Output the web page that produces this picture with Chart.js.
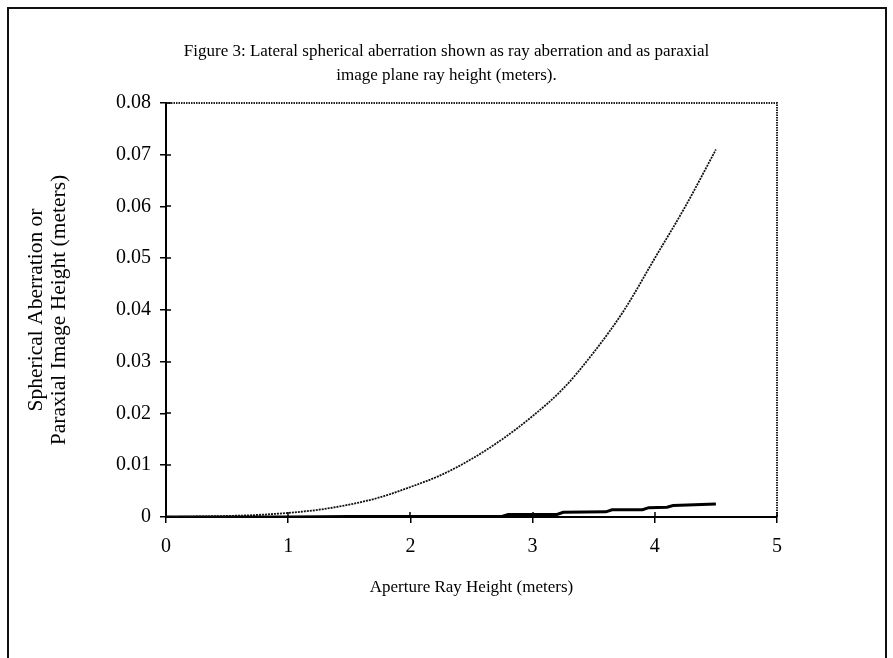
<!DOCTYPE html>
<html><head><meta charset="utf-8">
<script src="https://cdn.jsdelivr.net/npm/chart.js@4.4.1/dist/chart.umd.min.js"></script>
<style>html,body{margin:0;padding:0;background:#fff;}#wrap{width:893px;height:658px;position:relative;}</style>
</head><body><div id="wrap"><canvas id="c" width="893" height="658"></canvas></div>
<script>
const titleLines = ["Figure 3: Lateral spherical aberration shown as ray aberration and as paraxial", "image plane ray height (meters)."];
const xTitle = "Aperture Ray Height (meters)";
const yTitleLines = ["Spherical Aberration or", "Paraxial Image Height (meters)"];
const xTicks = [0, 1, 2, 3, 4, 5];
const xTickLabels = ["0", "1", "2", "3", "4", "5"];
const yTicks = [0, 0.01, 0.02, 0.03, 0.04, 0.05, 0.06, 0.07, 0.08];
const yTickLabels = ["0", "0.01", "0.02", "0.03", "0.04", "0.05", "0.06", "0.07", "0.08"];

// paraxial image plane ray height (dotted curve)
const heightX = [0, 0.25, 0.5, 0.75, 1.0, 1.25, 1.5, 1.75, 2.0, 2.25, 2.5, 2.75, 3.0, 3.25, 3.5, 3.75, 4.0, 4.25, 4.5];
const heightY = [0, 0.0001, 0.0002, 0.0004, 0.0008, 0.0014, 0.0024, 0.0038, 0.0058, 0.0081, 0.0112, 0.0150, 0.0195, 0.0248, 0.0318, 0.0400, 0.0500, 0.0600, 0.0710];

// lateral ray aberration (solid curve)
const aberrX = [0, 0.5, 1.0, 1.5, 2.0, 2.5, 2.75, 2.8, 3.2, 3.25, 3.6, 3.65, 3.9, 3.95, 4.1, 4.15, 4.5];
const aberrY = [0, 0, 0, 0.0001, 0.0001, 0.0001, 0.0001, 0.0005, 0.0005, 0.0009, 0.0010, 0.0014, 0.0014, 0.0018, 0.0019, 0.0022, 0.0025];

const serif = "'Liberation Serif', 'Times New Roman', serif";

const decor = {
  id: 'decor',
  beforeDraw(chart) {
    const ctx = chart.ctx;
    ctx.save(); ctx.fillStyle = '#fff'; ctx.fillRect(0, 0, chart.width, chart.height); ctx.restore();
  },
  afterDraw(chart) {
    const { ctx, chartArea: a, scales: { x, y } } = chart;
    ctx.save();
    // outer frame (left, top, right)
    ctx.strokeStyle = '#111'; ctx.lineWidth = 2;
    ctx.beginPath();
    ctx.moveTo(8, 658); ctx.lineTo(8, 8); ctx.lineTo(886, 8); ctx.lineTo(886, 658);
    ctx.stroke();
    // plot top/right border (grainy)
    ctx.strokeStyle = '#222'; ctx.lineWidth = 2; ctx.setLineDash([1.5, 1]);
    ctx.beginPath();
    ctx.moveTo(a.left, a.top); ctx.lineTo(a.right, a.top); ctx.lineTo(a.right, a.bottom);
    ctx.stroke();
    ctx.setLineDash([]);
    // inner half of crossing ticks
    ctx.strokeStyle = '#000'; ctx.lineWidth = 1.5;
    ctx.beginPath();
    yTicks.forEach(v => { const py = Math.round(y.getPixelForValue(v)); ctx.moveTo(a.left, py); ctx.lineTo(a.left + 5, py); });
    xTicks.forEach(v => { const px = Math.round(x.getPixelForValue(v)); ctx.moveTo(px, a.bottom); ctx.lineTo(px, a.bottom - 5); });
    ctx.stroke();
    ctx.restore();
  }
};

new Chart(document.getElementById('c'), {
  type: 'scatter',
  data: {
    datasets: [
      {
        label: 'Paraxial image height',
        data: heightX.map((v, i) => ({ x: v, y: heightY[i] })),
        showLine: true, borderColor: '#111', borderWidth: 1.8, borderDash: [2, 1],
        pointRadius: 0, cubicInterpolationMode: 'monotone', fill: false
      },
      {
        label: 'Ray aberration',
        data: aberrX.map((v, i) => ({ x: v, y: aberrY[i] })),
        showLine: true, borderColor: '#000', borderWidth: 3,
        pointRadius: 0, tension: 0, fill: false
      }
    ]
  },
  options: {
    responsive: false, animation: false, devicePixelRatio: 1,
    layout: { padding: 0 },
    plugins: {
      legend: { display: false }, tooltip: { enabled: false },
      title: {
        display: true, text: titleLines, color: '#000',
        font: { family: serif, size: 17, weight: 'normal', lineHeight: 1.41 },
        padding: { top: 40, bottom: 15 }
      }
    },
    scales: {
      x: {
        type: 'linear', min: 0, max: 5,
        afterFit: s => { s.height = 141; },
        afterBuildTicks: s => { s.ticks = xTicks.map(v => ({ value: v })); },
        ticks: { color: '#000', font: { family: serif, size: 20 }, padding: 12, maxRotation: 0,
          callback: (v, i) => xTickLabels[i] },
        grid: { drawOnChartArea: false, drawTicks: true, tickLength: 6, color: '#000', lineWidth: 1.5 },
        border: { display: true, color: '#000', width: 2 },
        title: { display: true, text: xTitle, color: '#000', font: { family: serif, size: 17, lineHeight: 1.2 },
          padding: { top: 0, bottom: 60 } }
      },
      y: {
        type: 'linear', min: 0, max: 0.08,
        afterFit: s => { s.width = 166; },
        afterBuildTicks: s => { s.ticks = yTicks.map(v => ({ value: v })); },
        ticks: { color: '#000', font: { family: serif, size: 20 }, padding: 9,
          callback: (v, i) => yTickLabels[i] },
        grid: { drawOnChartArea: false, drawTicks: true, tickLength: 6, color: '#000', lineWidth: 1.5 },
        border: { display: true, color: '#000', width: 2 },
        title: { display: true, text: yTitleLines, color: '#000', font: { family: serif, size: 21.5, lineHeight: 1.08 },
          padding: { top: 25, bottom: 0 } }
      },
      yRight: {
        type: 'linear', position: 'right', min: 0, max: 0.08,
        afterFit: s => { s.width = 116; },
        ticks: { display: false }, grid: { display: false }, border: { display: false }
      }
    }
  },
  plugins: [decor]
});
</script></body></html>
